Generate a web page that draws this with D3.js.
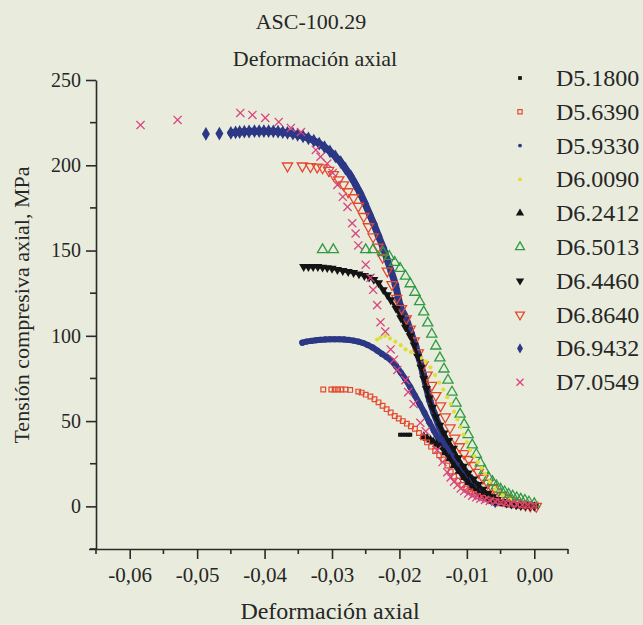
<!DOCTYPE html>
<html><head><meta charset="utf-8">
<script src="https://cdn.jsdelivr.net/npm/d3@7"></script>
<style>
html,body{margin:0;padding:0;background:#e9ecdd;}
svg{display:block;}
text{font-family:"Liberation Serif","Times New Roman",serif;fill:#262626;}
</style></head>
<body>
<svg id="chart" width="643" height="625"></svg>
<script>
// ---------- data ----------
const seriesNames = ["D5.1800","D5.6390","D5.9330","D6.0090","D6.2412","D6.5013","D6.4460","D6.8640","D6.9432","D7.0549"];
const xTicks = [-0.06,-0.05,-0.04,-0.03,-0.02,-0.01,0.00];
const yTicks = [0,50,100,150,200,250];

const d51800x = [-0.0199,-0.0195,-0.0191,-0.0187,-0.0184];
const d51800y = [42,42,42,42,42];

const d56390x = [-0.0313,-0.0301,-0.0296,-0.0291,-0.0286,-0.0280,-0.0273,-0.0261,-0.0256,-0.0250,-0.0243,-0.0237,-0.0231,-0.0225,-0.0219,-0.0213,-0.0207,-0.0201,-0.0195,-0.0189,-0.0183,-0.0177,-0.0171,-0.0165,-0.0159,-0.0153,-0.0147,-0.0141,-0.0135,-0.0129,-0.0124,-0.0119,-0.0113,-0.0107,-0.0101,-0.0095,-0.0089,-0.0083,-0.0076,-0.0069,-0.0060,-0.0050,-0.0040,-0.0030,-0.0020,-0.0010,0];
const d56390y = [68.5,68.5,68.5,68.5,68.5,68.5,68.3,67.3,66.7,65.5,64.4,62.8,61,59,57,55,53,51.5,50,48.5,47,45.5,43,40.5,37.5,35,32.5,30,27.5,24,20.5,17.5,15,12.5,10.5,8.8,7.3,6,5,4.1,3.2,2.5,1.8,1.2,0.8,0.5,0.3];

const d59330x = [-0.0344,-0.0338,-0.0331,-0.0324,-0.0317,-0.0310,-0.0303,-0.0296,-0.0289,-0.0282,-0.0275,-0.0268,-0.0261,-0.0254,-0.0247,-0.0240,-0.0233,-0.0226,-0.0219,-0.0212,-0.0205,-0.0198,-0.0191,-0.0184,-0.0177,-0.0170,-0.0163,-0.0156,-0.0149,-0.0142,-0.0135,-0.0128,-0.0121,-0.0114,-0.0107,-0.0100,-0.0093,-0.0086,-0.0079,-0.0072,-0.0065,-0.0058];
const d59330y = [96,96.6,97,97.4,97.7,97.9,98,98,98,97.9,97.6,97.2,96.6,95.8,94.6,93.2,91.4,89.4,87.6,85.5,82.2,78.5,74.5,70,65,60,55,49.5,44.5,39.5,35,30.5,26.5,22.5,18.8,15.3,12.2,9.4,7,5,3.2,2];

const d60090x = [-0.0233,-0.0228,-0.0221,-0.0214,-0.0206,-0.0198,-0.0191,-0.0183,-0.0176,-0.0168,-0.0161,-0.0154,-0.0147,-0.0141,-0.0135,-0.0129,-0.0124,-0.0119,-0.0114,-0.0109,-0.0105,-0.0100,-0.0095,-0.0089,-0.0084,-0.0078,-0.0073,-0.0066,-0.0058,-0.0047,-0.0036,-0.0024,-0.0012,0];
const d60090y = [97.8,99,100,98.5,96.6,94.5,92,90.5,89,87,85,81.5,77,72.5,68.5,64,60,55.5,51,46.5,42,37.5,33,29.5,26,22.5,19,14.5,10,6.5,4,2,1,0.5];

const d62412x = [-0.0164,-0.0159,-0.0154,-0.0150,-0.0145,-0.0140,-0.0133,-0.0126,-0.0119,-0.0112,-0.0105,-0.0098,-0.0091,-0.0084,-0.0077,-0.0070,-0.0062,-0.0054,-0.0046,-0.0038,-0.0030,-0.0020,-0.0010,0];
const d62412y = [41,40,39,38,36.5,35,31.5,28,24,20.5,17,14,11,8.6,6.5,4.8,3.4,2.3,1.5,1,0.6,0.3,0.1,0];

const d65013x = [-0.0314,-0.0298,-0.0250,-0.0239,-0.0224,-0.0215,-0.0207,-0.0199,-0.0191,-0.0184,-0.0177,-0.0170,-0.0164,-0.0158,-0.0152,-0.0146,-0.0140,-0.0134,-0.0128,-0.0122,-0.0116,-0.0110,-0.0104,-0.0098,-0.0092,-0.0086,-0.0080,-0.0074,-0.0068,-0.0062,-0.0056,-0.0050,-0.0044,-0.0038,-0.0032,-0.0026,-0.0020,-0.0014,-0.0008,0];
const d65013y = [150.5,150.5,150.5,150.5,148.7,146.5,143,139.5,135,130.5,125.5,120,114,107.5,101,94,87,80.5,74,67,60.5,54,48,42,36,30.5,25.5,21,17,14.5,12,10,8.5,7,6,5,4.2,3.5,2.5,1.5];

const d64460x = [-0.0342,-0.0335,-0.0328,-0.0321,-0.0314,-0.0307,-0.0300,-0.0292,-0.0284,-0.0276,-0.0268,-0.0260,-0.0252,-0.0245,-0.0238,-0.0231,-0.0224,-0.0218,-0.0213,-0.0205,-0.0198,-0.0191,-0.0184,-0.0178,-0.0173,-0.0168,-0.0164,-0.0160,-0.0156,-0.0151,-0.0146,-0.0140,-0.0134,-0.0127,-0.0120,-0.0113,-0.0105,-0.0098,-0.0090,-0.0083,-0.0076,-0.0069,-0.0062,-0.0055,-0.0048,-0.0041,-0.0034,-0.0027,-0.0020,-0.0013,-0.0006,0];
const d64460y = [140.5,140.5,140.5,140.5,140.2,139.9,139.5,138.8,138.2,137.6,137,136.2,135.3,134.3,133,131,127,124,121,116,110.5,105,100,94.5,88,81.5,75,69,63.5,58,52.5,47.5,43,38.5,34,28.5,23.5,19.5,16,12.8,10,7.6,5.6,4,2.8,1.9,1.2,0.8,0.5,0.3,0.1,0];

const d68640x = [-0.0366,-0.0344,-0.0332,-0.0322,-0.0314,-0.0305,-0.0298,-0.0290,-0.0283,-0.0276,-0.0268,-0.0261,-0.0253,-0.0246,-0.0239,-0.0232,-0.0225,-0.0218,-0.0211,-0.0204,-0.0197,-0.0190,-0.0184,-0.0178,-0.0172,-0.0165,-0.0159,-0.0152,-0.0146,-0.0139,-0.0132,-0.0125,-0.0118,-0.0111,-0.0104,-0.0097,-0.0090,-0.0083,-0.0076,-0.0069,-0.0062,-0.0055,-0.0048,-0.0041,-0.0034,-0.0027,-0.0020,-0.0013,-0.0006,0.0003];
const d68640y = [199.6,199.6,199.2,199,198.5,197,194.5,191.5,188.5,184.5,181,176,170,164,158,152,146,138,130,122,116,110,104,97,90,83,77,71,65,59,52.5,46,40,35,31,27.5,24,20,16.5,13.5,10.5,8,6,4.5,3.2,2.2,1.4,0.8,0.3,0];

const d69432x = [-0.0487,-0.0467,-0.0450,-0.0443,-0.0437,-0.0430,-0.0423,-0.0415,-0.0408,-0.0401,-0.0394,-0.0387,-0.0380,-0.0373,-0.0366,-0.0358,-0.0351,-0.0343,-0.0335,-0.0327,-0.0319,-0.0311,-0.0303,-0.0295,-0.0287,-0.0280,-0.0272,-0.0265,-0.0258,-0.0251,-0.0244,-0.0238,-0.0231,-0.0224,-0.0218,-0.0212,-0.0206,-0.0199,-0.0190,-0.0183,-0.0176,-0.0170,-0.0165,-0.0160,-0.0155,-0.0149,-0.0142,-0.0134,-0.0126,-0.0118,-0.0110,-0.0101,-0.0092,-0.0083,-0.0074,-0.0065,-0.0058];
const d69432y = [218.4,218.6,219,219.3,219.5,219.7,219.8,220,220,220,220,219.9,219.7,219.4,219,218.5,217.8,216.9,215.8,214.4,212.7,210.6,208.1,205.2,201.8,198,193.5,188.6,183.5,177.5,171,165.5,158.5,151.5,144.5,137.5,130,118,110,102,94,86,78,70,62,55,48,41,35,29.5,24.5,19.5,15,11,7.5,5,3];

const d70549x = [-0.0584,-0.0529,-0.0436,-0.0418,-0.0399,-0.0379,-0.0361,-0.0346,-0.0324,-0.0317,-0.0307,-0.0299,-0.0292,-0.0284,-0.0277,-0.0270,-0.0265,-0.0261,-0.0250,-0.0243,-0.0239,-0.0233,-0.0228,-0.0221,-0.0213,-0.0208,-0.0203,-0.0191,-0.0187,-0.0179,-0.0169,-0.0161,-0.0144,-0.0136,-0.0129,-0.0124,-0.0119,-0.0114,-0.0109,-0.0104,-0.0098,-0.0092,-0.0086,-0.0080,-0.0073,-0.0066,-0.0058,-0.0050,-0.0042,-0.0034,-0.0026,-0.0018,-0.0010,0];
const d70549y = [223.6,226.6,230.7,229.5,227.8,225.4,221.9,219.5,209,205,201,195.5,188.5,181.5,175.6,166,160,153,141.7,134,127,118,108,102.5,92,86,80,74,67,60,49,44,33,26,20,17,14.5,12.5,10.5,9,7.5,6.3,5.3,4.5,3.8,3.2,2.7,2.3,2,1.6,1.2,0.9,0.6,0.4];

const allX = [d51800x,d56390x,d59330x,d60090x,d62412x,d65013x,d64460x,d68640x,d69432x,d70549x];
const allY = [d51800y,d56390y,d59330y,d60090y,d62412y,d65013y,d64460y,d68640y,d69432y,d70549y];

// ---------- styles ----------
const styles = [
  {sym:"square", size:16, leg:14, fill:"#141414", stroke:"none", sw:0, line:0},
  {sym:"square", size:22, leg:18, fill:"none", stroke:"#e5482e", sw:1.2, line:0},
  {sym:"circle", size:30, leg:12, fill:"#2c3785", stroke:"none", sw:0, line:6},
  {sym:"circle", size:14, leg:12, fill:"#dede3a", stroke:"none", sw:0, line:0},
  {sym:"triangle", size:34, leg:30, fill:"#141414", stroke:"none", sw:0, line:3},
  {sym:"triangle", size:45, leg:34, fill:"none", stroke:"#2f9a43", sw:1.3, line:0},
  {sym:"triangleDown", size:36, leg:30, fill:"#141414", stroke:"none", sw:0, line:3},
  {sym:"triangleDown", size:45, leg:34, fill:"none", stroke:"#e5482e", sw:1.3, line:0},
  {sym:"diamond", size:55, leg:30, fill:"#2c3785", stroke:"none", sw:0, line:7},
  {sym:"times", size:45, leg:34, fill:"none", stroke:"#d9457e", sw:1.3, line:0}
];
const drawOrder = [8,2,7,5,3,6,4,1,0,9];

// ---------- layout ----------
const svg = d3.select("#chart");
const x = d3.scaleLinear().domain([-0.065,0.005]).range([96,568]);
const y = d3.scaleLinear().domain([-25,250]).range([549,80]);

const symMap = {
  square:d3.symbolSquare, circle:d3.symbolCircle, triangle:d3.symbolTriangle,
  diamond:d3.symbolDiamond, times:d3.symbolTimes
};
function symPath(st, size){
  if(st.sym==="triangleDown") return d3.symbol(d3.symbolTriangle, size)();
  return d3.symbol(symMap[st.sym], size)();
}
function rot(st){ return st.sym==="triangleDown" ? " rotate(180)" : ""; }

const fmt = d => (d<0?"-":"") + Math.abs(d).toFixed(2).replace(".",",");

// axes
const xAxis = d3.axisBottom(x).tickValues(xTicks).tickSize(10).tickSizeOuter(0).tickFormat(fmt).tickPadding(8);
const gx = svg.append("g").attr("transform",`translate(0,${y(-25)})`).call(xAxis);
gx.selectAll("text").style("font-size","21px").attr("fill","#262626");
const xMinor = d3.range(-0.065,0.0051,0.01);
gx.selectAll(".minor").data(xMinor).enter().append("line")
  .attr("x1",d=>x(d)).attr("x2",d=>x(d)).attr("y1",0).attr("y2",5);

const yAxis = d3.axisLeft(y).tickValues(yTicks).tickSize(10).tickSizeOuter(0).tickPadding(5);
const gy = svg.append("g").attr("transform",`translate(${x(-0.065)},0)`).call(yAxis);
gy.selectAll("text").style("font-size","20px").attr("fill","#262626");
const yMinor = [-25,25,75,125,175,225];
gy.selectAll(".minor").data(yMinor).enter().append("line")
  .attr("y1",d=>y(d)).attr("y2",d=>y(d)).attr("x1",0).attr("x2",-6);

svg.selectAll("g line").attr("stroke","#2a2a2a").attr("stroke-width",1.6);
svg.selectAll(".domain").attr("stroke","#2a2a2a").attr("stroke-width",1.6);
gx.select(".domain").attr("d",`M${x(-0.065)-7},0.5H${x(0.005)}`);

// points
const lineGen = d3.line().x(d=>x(d[0])).y(d=>y(d[1])).curve(d3.curveMonotoneX);
drawOrder.forEach(i=>{
  const st = styles[i];
  const pts = allX[i].map((v,k)=>[v, allY[i][k]]);
  const g = svg.append("g");
  if(st.line){
    g.append("path").attr("d",lineGen(pts.slice(i===8?2:0)))
      .attr("fill","none").attr("stroke",st.fill).attr("stroke-width",st.line)
      .attr("stroke-linejoin","round").attr("stroke-linecap","round");
  }
  const p = symPath(st, st.size);
  g.selectAll("path.m").data(pts).enter().append("path").attr("class","m")
    .attr("d",p)
    .attr("transform",d=>`translate(${x(d[0])},${y(d[1])})${rot(st)}`)
    .attr("fill",st.fill).attr("stroke",st.stroke).attr("stroke-width",st.sw);
});

// titles
svg.append("text").attr("x",311).attr("y",29).attr("text-anchor","middle").style("font-size","22px").text("ASC-100.29");
svg.append("text").attr("x",315).attr("y",66).attr("text-anchor","middle").style("font-size","22px").text("Deformación axial");
svg.append("text").attr("x",330).attr("y",619).attr("text-anchor","middle").style("font-size","24px").text("Deformación axial");
svg.append("text").attr("transform","translate(29,305) rotate(-90)").attr("text-anchor","middle").style("font-size","22px").text("Tensión compresiva axial, MPa");

// legend
const lg = svg.append("g");
seriesNames.forEach((n,i)=>{
  const st = styles[i];
  const ly = 78 + i*33.8;
  lg.append("path").attr("d",symPath(st, st.leg))
    .attr("transform",`translate(520,${ly})${rot(st)}`)
    .attr("fill",st.fill).attr("stroke",st.stroke).attr("stroke-width",st.sw);
  lg.append("text").attr("x",556).attr("y",ly+8).style("font-size","24px").text(n);
});
</script>
</body></html>
